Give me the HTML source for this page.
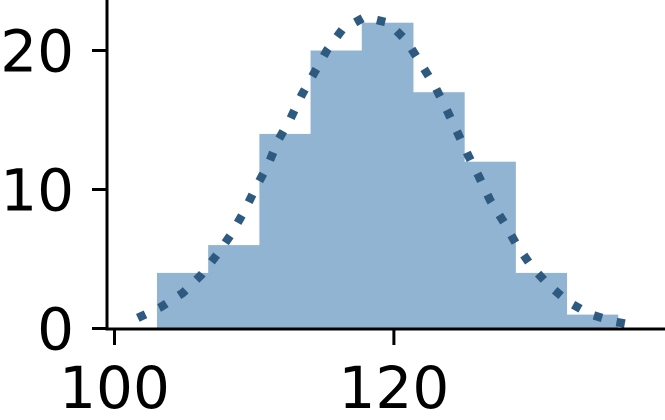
<!DOCTYPE html>
<html><head><meta charset="utf-8"><style>
html,body{margin:0;padding:0;background:#fff;width:665px;height:420px;overflow:hidden}
text{font-family:"DejaVu Sans","Liberation Sans",sans-serif;font-size:58px;fill:#000}
</style></head><body>
<svg id="chart" width="665" height="420" xmlns="http://www.w3.org/2000/svg"></svg>
<script>
const binStart = 103.04;
const binWidth = 3.665;
const counts = [4, 6, 14, 20, 22, 17, 12, 4, 1];
const curveX = [101.67,103.3,104.9,106.2,107.35,108.4,109.3,110.1,111.0,111.7,112.6,113.4,114.3,115.2,116.3,117.9,119.6,120.9,121.9,122.9,123.7,124.5,125.3,126.1,126.9,127.9,128.8,129.9,131.1,132.5,134.1,135.9,137.5];
const curveY = [0.76,1.53,2.57,3.84,5.33,6.85,8.46,10.1,11.8,13.5,15.1,16.8,18.4,20.0,21.5,22.4,22.0,20.7,19.1,17.5,15.9,14.2,12.5,10.9,9.2,7.6,6.0,4.4,3.1,1.9,1.0,0.47,0.17];
const xTicks = [100, 120];
const yTicks = [0, 10, 20];

const NS = "http://www.w3.org/2000/svg";
const svg = document.getElementById('chart');
const xs = v => 114.5 + (v - 100) * 13.97;
const ys = v => 328.5 - v * 13.9;
function mk(tag, attrs, parent) {
  const e = document.createElementNS(NS, tag);
  for (const k in attrs) e.setAttribute(k, attrs[k]);
  (parent || svg).appendChild(e);
  return e;
}
counts.forEach((c, i) => {
  const x0 = xs(binStart + i * binWidth), x1 = xs(binStart + (i + 1) * binWidth);
  const r = mk('rect', {x: x0, y: ys(c), width: x1 - x0 + 0.5, height: ys(0) - ys(c), fill: '#92b4d3'});
  
  
});
const d = curveX.map((x, i) => (i ? 'L' : 'M') + xs(x).toFixed(1) + ',' + ys(curveY[i]).toFixed(1)).join(' ');
const p = mk('path', {d: d, fill: 'none', stroke: '#2f5a80', 'stroke-width': 8.5, 'stroke-dasharray': '8.5 15'});


const ya = mk('line', {x1: 107, y1: 0, x2: 107, y2: 330.5, stroke: '#000', 'stroke-width': 3});


const xa = mk('line', {x1: 105.5, y1: 329, x2: 665, y2: 329, stroke: '#000', 'stroke-width': 3});


yTicks.forEach(t => {
  const y = ys(t);
  const l = mk('line', {x1: 92, y1: y, x2: 107, y2: y, stroke: '#000', 'stroke-width': 3});
  
  
  const tx = mk('text', {x: 74, y: y + 21, 'text-anchor': 'end'});
  tx.textContent = t;
  
  
});
xTicks.forEach(t => {
  const x = xs(t);
  const l = mk('line', {x1: x, y1: 329, x2: x, y2: 345, stroke: '#000', 'stroke-width': 3});
  
  
  const tx = mk('text', {x: x, y: 408, 'text-anchor': 'middle'});
  tx.textContent = t;
  
  
});
</script>
</body></html>
